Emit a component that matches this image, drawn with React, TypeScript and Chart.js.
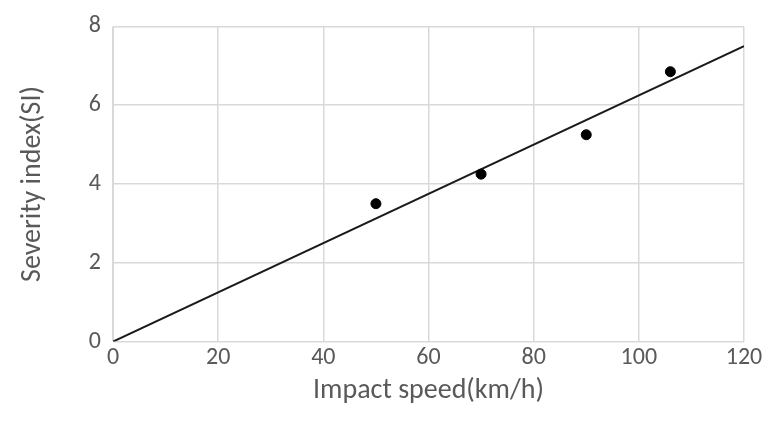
import React, { useEffect, useRef } from "react";
import Chart from "chart.js/auto";

const speeds = [50, 70, 90, 106];
const severity = [3.5, 4.25, 5.25, 6.85];
const fitX = [0, 120];
const fitY = [0, 7.5];

export default function App() {
  const ref = useRef<HTMLCanvasElement>(null);
  useEffect(() => {
    document.body.style.margin = "0";
    const font = "Calibri, Carlito, 'Liberation Sans', 'DejaVu Sans', sans-serif";
    const chart = new Chart(ref.current!, {
      type: "scatter",
      data: {
        datasets: [
          {
            data: speeds.map((x, i) => ({ x, y: severity[i] })),
            backgroundColor: "#000",
            borderColor: "#000",
            pointRadius: 5,
          },
          {
            type: "line",
            data: fitX.map((x, i) => ({ x, y: fitY[i] })),
            borderColor: "#1a1a1a",
            borderWidth: 2,
            pointRadius: 0,
          },
        ],
      },
      options: {
        animation: false,
        responsive: false,
        plugins: { legend: { display: false }, tooltip: { enabled: false } },
        layout: { padding: { top: 10, right: 30, left: 16, bottom: 28 } },
        scales: {
          x: {
            type: "linear",
            min: 0,
            max: 120,
            ticks: { stepSize: 20, color: "#595959", font: { size: 24, family: font }, padding: 2 },
            grid: { color: "#d9d9d9", lineWidth: 1.5, drawTicks: false },
            border: { color: "#d9d9d9" },
            title: { display: true, text: "Impact speed(km/h)", color: "#595959", font: { size: 28, family: font }, padding: 0 },
          },
          y: {
            min: 0,
            max: 8,
            ticks: { stepSize: 2, color: "#595959", font: { size: 24, family: font }, padding: 12 },
            grid: { color: "#d9d9d9", lineWidth: 1.5, drawTicks: false },
            border: { color: "#d9d9d9" },
            title: { display: true, text: "Severity index(SI)", color: "#595959", font: { size: 28, family: font }, padding: 0 },
            afterFit: (s: any) => { s.width = 97; },
          },
        },
      },
    });
    return () => chart.destroy();
  }, []);
  return (
    <div style={{ width: 774, height: 436, background: "#fff" }}>
      <canvas ref={ref} width={774} height={436} />
    </div>
  );
}
